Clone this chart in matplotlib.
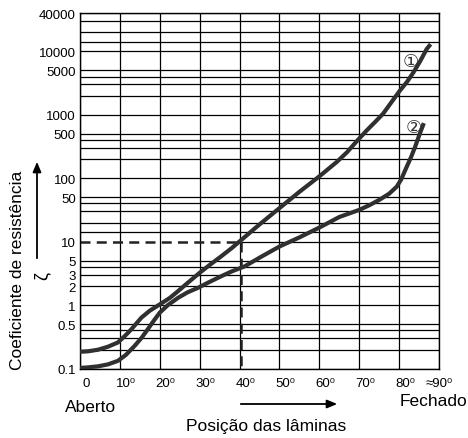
import matplotlib
matplotlib.use("Agg")
import matplotlib.pyplot as plt
from matplotlib.patches import FancyArrowPatch
from matplotlib.transforms import ScaledTranslation

plt.rcParams["font.family"] = ["Liberation Sans", "DejaVu Sans", "Noto Sans CJK JP"]

# ── Data ───────────────────────────────────────────────────────────────────
curve1_x = [0, 2, 4.5, 7, 9.5, 11.3, 12.9, 15.4, 17.5, 20, 22.5, 24.6, 27, 30,
            32.5, 35.4, 38, 40, 45, 50, 55, 60, 64.4, 66.9, 69.5, 71.9, 74,
            76, 78, 80.2, 82, 83.6, 85.3, 86.9, 87.9]
curve1_y = [0.185, 0.188, 0.199, 0.222, 0.259, 0.33, 0.419, 0.638, 0.82, 1.03,
            1.3, 1.67, 2.25, 3.24, 4.3, 5.89, 7.9, 10.1, 18.7, 33.8, 61, 107,
            181, 255, 390, 568, 770, 1040, 1550, 2400, 3300, 4650, 7000,
            10800, 12900]

curve2_x = [0, 2, 4.5, 7, 9.5, 11.5, 13.7, 15.5, 17, 18.5, 20, 22, 24.6, 27,
            29.6, 32, 35.4, 38, 41.3, 45, 50, 55, 60, 65, 70, 72.5, 75, 77.5,
            79.4, 80.5, 81.9, 83, 84, 85.2, 86.2]
curve2_y = [0.103, 0.105, 0.109, 0.117, 0.133, 0.165, 0.229, 0.31, 0.419, 0.57,
            0.764, 1.0, 1.31, 1.6, 1.88, 2.25, 2.86, 3.4, 4.1, 5.6, 8.4, 11.7,
            16.7, 24.5, 31.7, 37.5, 45.5, 57, 73.5, 95, 151, 215, 311, 504, 738]

grid_x = [0, 10, 20, 30, 40, 50, 60, 70, 80, 90]
grid_y = [0.1, 0.2, 0.3, 0.4, 0.5, 1, 2, 3, 4, 5, 14, 20, 30, 40, 50,
          100, 200, 300, 400, 500, 1000, 2000, 3000, 4000, 5000,
          10000, 14000, 20000, 30000, 40000]

ytick_vals = [0.1, 0.5, 1, 2, 3, 5, 10, 50, 100, 500, 1000, 5000, 10000, 40000]
ytick_labels = ["0.1", "0.5", "1", "2", "3", "5", "10", "50", "100", "500",
                "1000", "5000", "10000", "40000"]
xtick_labels = ["0", "10\u2070", "20\u2070", "30\u2070", "40\u2070", "50\u2070",
                "60\u2070", "70\u2070", "80\u2070", "\u224890\u2070"]

# reading example: 10 -> ~40 deg
read_x = 40.4
read_y = 10

# ── Plot ───────────────────────────────────────────────────────────────────
fig = plt.figure(figsize=(4.68, 4.39), dpi=100)
ax = fig.add_axes([0.1709, 0.1578, 0.7671, 0.8103])
ax.set_yscale("log")
ax.set_xlim(0, 90)
ax.set_ylim(0.1, 40000)

# grid
ax.vlines(grid_x, 0.1, 40000, color="black", lw=0.9, zorder=1)
ax.hlines(grid_y, 0, 90, color="black", lw=0.9, zorder=1)
ax.hlines([read_y], read_x, 90, color="black", lw=0.9, zorder=1)

# dashed reading lines
ax.plot([0, read_x], [read_y, read_y], color="#222222", lw=1.8,
        dashes=(4, 2.5), zorder=2)
ax.plot([read_x, read_x], [read_y, 0.1], color="#222222", lw=1.8,
        dashes=(4, 2.5), zorder=2)

# curves
kw = dict(color="#303030", lw=3.0, solid_capstyle="butt",
          solid_joinstyle="round", zorder=3)
ax.plot(curve1_x, curve1_y, **kw)
ax.plot(curve2_x, curve2_y, **kw)

ax.text(82.9, 6840, "\u2460", ha="center", va="center", fontsize=13,
        color="#333333", zorder=4)
ax.text(83.6, 625, "\u2461", ha="center", va="center", fontsize=13,
        color="#333333", zorder=4)

# ticks
ax.minorticks_off()
ax.set_yticks(ytick_vals)
ax.set_yticklabels(ytick_labels)
ax.set_xticks(grid_x)
ax.set_xticklabels(xtick_labels)
ax.tick_params(axis="both", length=0, labelsize=9.5, colors="black")
ax.tick_params(axis="y", pad=3)
ax.tick_params(axis="x", pad=6)
shift = ScaledTranslation(6 / 100, 0, fig.dpi_scale_trans)
for lbl in ax.get_xticklabels()[:-1]:
    lbl.set_transform(lbl.get_transform() + shift)

for sp in ax.spines.values():
    sp.set_linewidth(1.0)
    sp.set_color("black")

# axis texts
fig.text(18 / 468, 1 - 270 / 439, "Coeficiente de resistência", rotation=90,
         ha="center", va="center", fontsize=12.5)
fig.text(42 / 468, 1 - 276 / 439, "\u03b6", rotation=90,
         ha="center", va="center", fontsize=13)
fig.add_artist(FancyArrowPatch(
    (37 / 468, 1 - 262 / 439), (37 / 468, 1 - 160 / 439),
    transform=fig.transFigure, arrowstyle="-|>,head_length=6,head_width=2.5",
    color="black", lw=1.3))

fig.text(65 / 468, 1 - 408 / 439, "Aberto", ha="left", va="center", fontsize=12.5)
fig.text(467 / 468, 1 - 402 / 439, "Fechado", ha="right", va="center", fontsize=12.5)
fig.text(266 / 468, 1 - 427 / 439, "Posição das lâminas", ha="center",
         va="center", fontsize=12.5)
fig.add_artist(FancyArrowPatch(
    (238 / 468, 1 - 405 / 439), (340 / 468, 1 - 405 / 439),
    transform=fig.transFigure, arrowstyle="-|>,head_length=6,head_width=2.5",
    color="black", lw=1.3))

fig.savefig("out.png", dpi=100, facecolor="white")
